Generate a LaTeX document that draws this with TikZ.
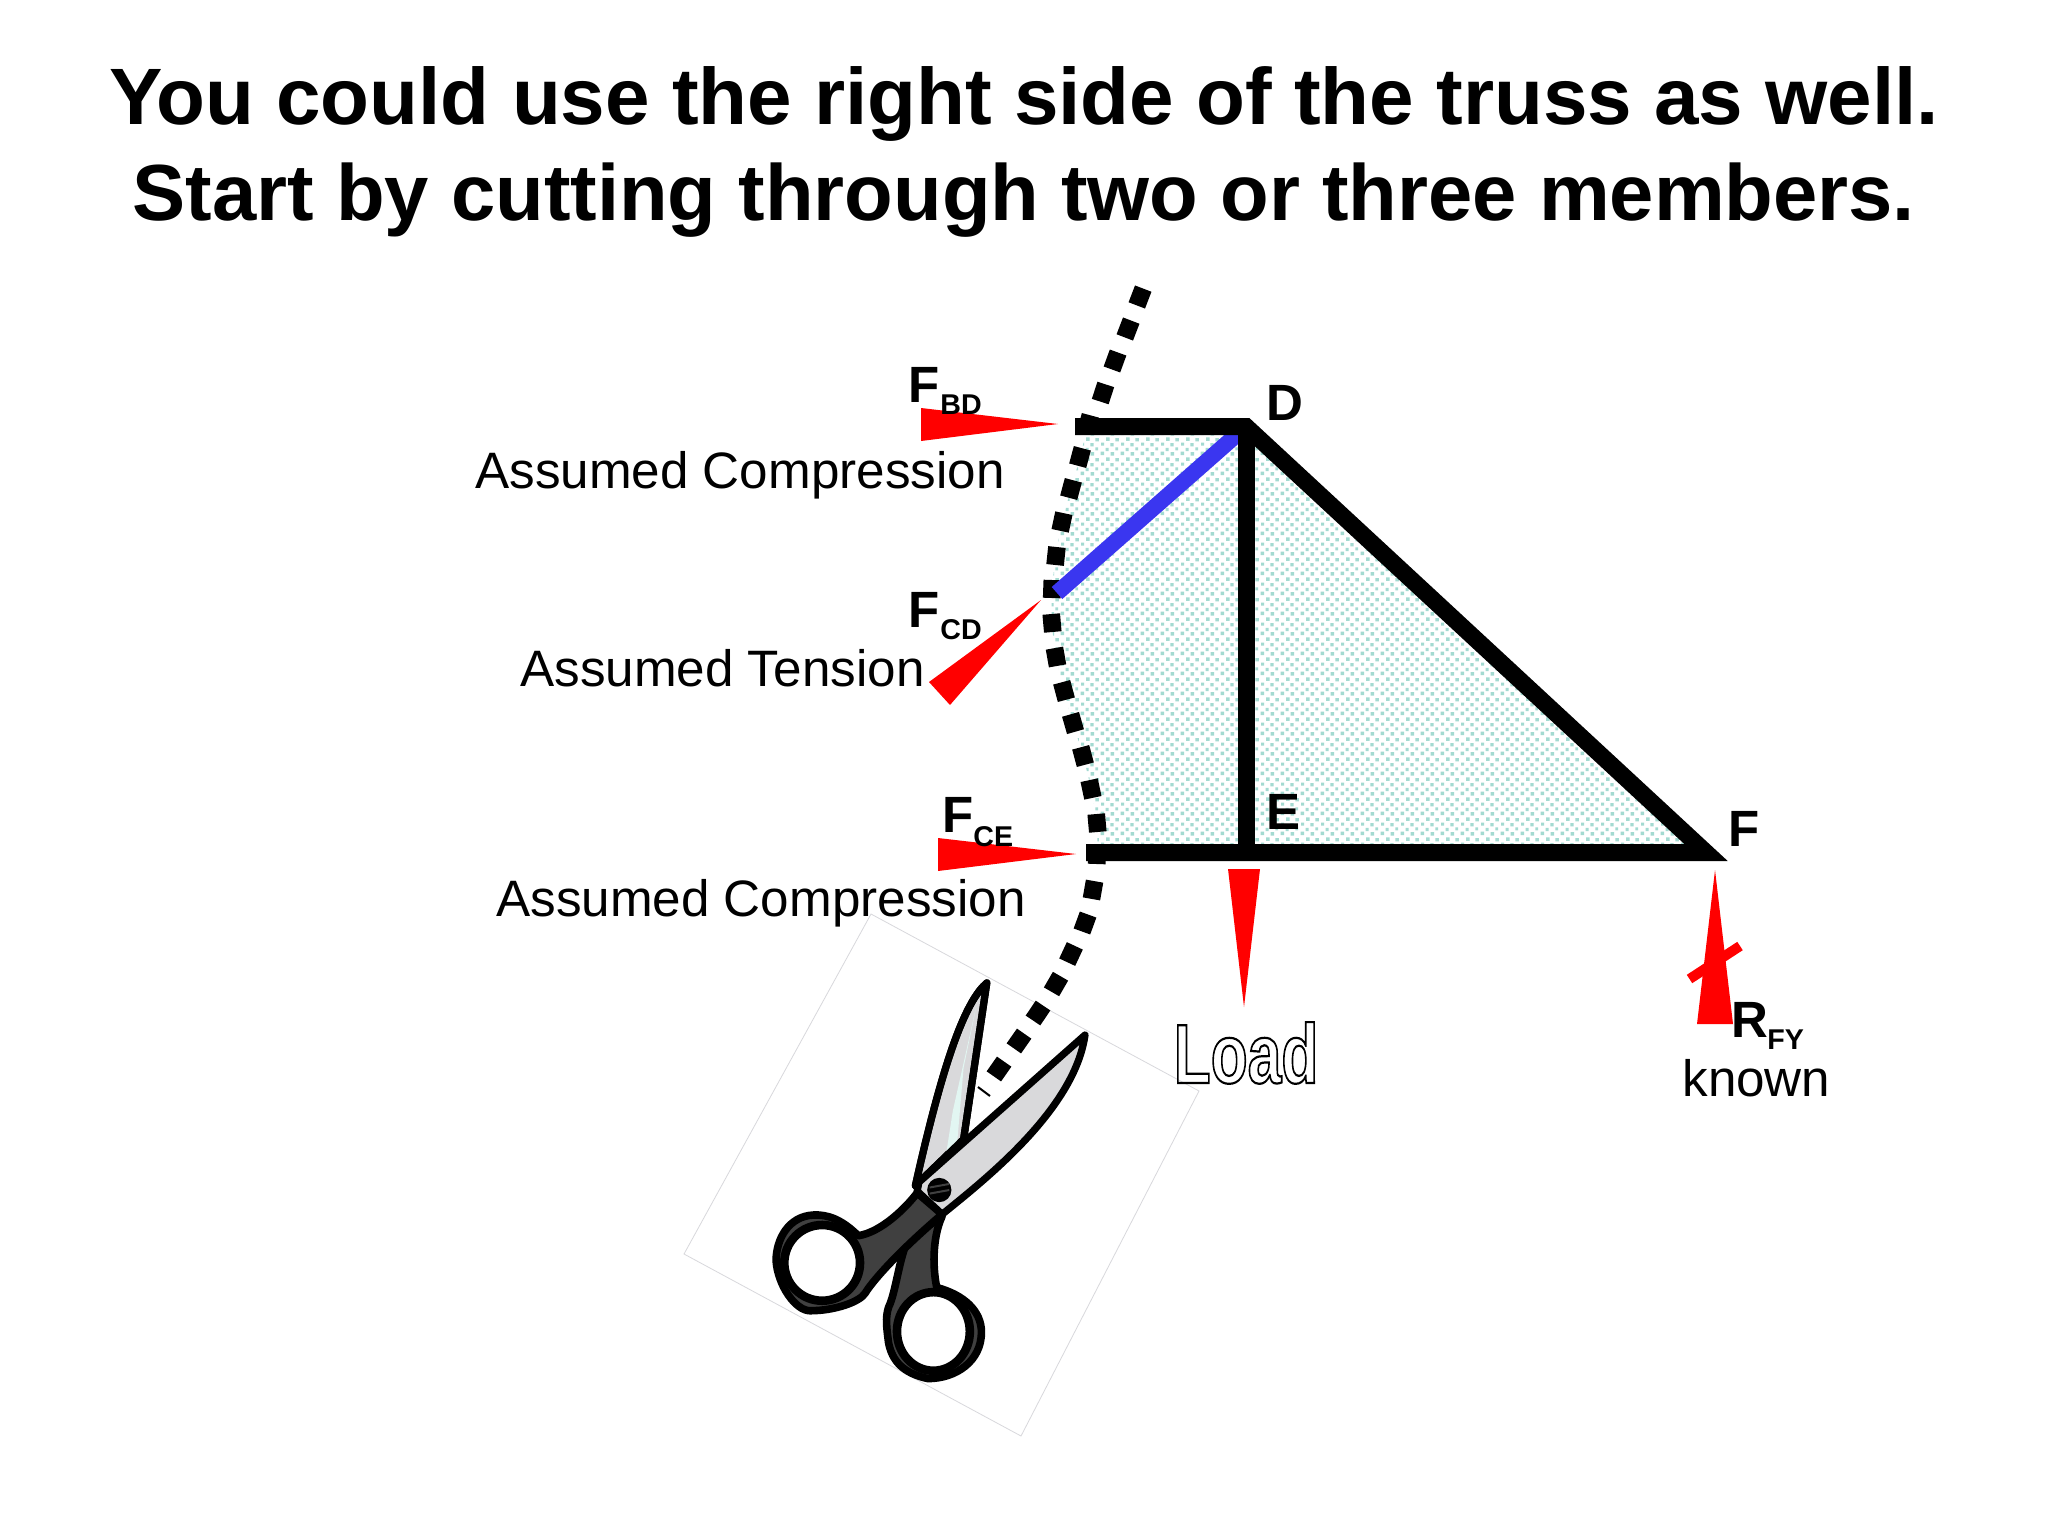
\documentclass[tikz,border=0pt]{standalone}
\usepackage{fontspec}
\setmainfont{Liberation Sans}
\usetikzlibrary{patterns}
\definecolor{fillteal}{HTML}{A3DAD1}
\definecolor{bluemem}{HTML}{3A36F0}
\definecolor{bladegray}{HTML}{D9D9DB}
\definecolor{bladecyan}{HTML}{E2F6F2}
\definecolor{handlegray}{HTML}{404040}
\definecolor{framegray}{HTML}{D8D8DC}
\pgfdeclarepatternformonly{trussdots}{\pgfqpoint{0pt}{0pt}}{\pgfqpoint{10pt}{10pt}}{\pgfqpoint{10pt}{10pt}}{
  \pgfpathrectangle{\pgfqpoint{0.3pt}{0.4pt}}{\pgfqpoint{1.9pt}{1.9pt}}
  \pgfpathrectangle{\pgfqpoint{2.9pt}{2.6pt}}{\pgfqpoint{1.6pt}{1.6pt}}
  \pgfpathrectangle{\pgfqpoint{5.6pt}{0.2pt}}{\pgfqpoint{1.8pt}{1.8pt}}
  \pgfpathrectangle{\pgfqpoint{8.0pt}{3.0pt}}{\pgfqpoint{1.5pt}{1.5pt}}
  \pgfpathrectangle{\pgfqpoint{0.6pt}{5.4pt}}{\pgfqpoint{1.6pt}{1.6pt}}
  \pgfpathrectangle{\pgfqpoint{3.2pt}{7.9pt}}{\pgfqpoint{1.9pt}{1.9pt}}
  \pgfpathrectangle{\pgfqpoint{5.4pt}{5.0pt}}{\pgfqpoint{1.7pt}{1.7pt}}
  \pgfpathrectangle{\pgfqpoint{8.1pt}{7.6pt}}{\pgfqpoint{1.8pt}{1.8pt}}
  \pgfusepath{fill}}
\newcommand{\outl}[1]{\special{pdf:code q 1 Tr 1.1 w 0 G}#1\special{pdf:code 0 Tr Q}}
\tikzset{
  member/.style={line width=8.5pt,line join=miter,miter limit=20,draw=black},
  cutdash/.style={line width=8.8pt,draw=black},
  force/.style={fill=red,draw=none},
  ttl/.style={inner sep=0,font=\fontsize{40}{47}\selectfont\bfseries,anchor=base},
  ttlb/.style={inner sep=0,font=\fontsize{39.8}{47}\selectfont\bfseries,anchor=base},
  lbl/.style={inner sep=0,font=\fontsize{25.6}{30}\selectfont,anchor=base west},
  blbl/.style={inner sep=0,font=\fontsize{25.5}{30}\selectfont\bfseries,anchor=base west},
  sub/.style={inner sep=0,font=\fontsize{14.3}{16}\selectfont\bfseries,anchor=base west},
  blade/.style={fill=bladegray,draw=black,line width=3.6pt,line join=round},
  handle/.style={fill=handlegray,draw=black,line width=3.8pt,line join=round},
  ring/.style={fill=white,draw=black,line width=4.3pt}
}
\begin{document}
\begin{tikzpicture}[x=0.5pt,y=-0.5pt]
\useasboundingbox[fill=white] (0,0) rectangle (2048,1536);
\node[ttl] (t1) at (1024,125) {You could use the right side of the truss as well.};
\node[ttlb] (t2) at (1024,220) {Start by cutting through two or three members.};
% scissors frame
\draw[framegray,line width=0.4pt] (871,914)--(1199,1091)--(1021,1436)--(684,1254)--cycle;
% truss region
\coordinate (A) at (1075,426.5);
\coordinate (D) at (1246,426.5);
\coordinate (E) at (1246,852.5);
\coordinate (F) at (1706,852.5);
\coordinate (G) at (1086,852.5);
\fill[pattern=trussdots,pattern color=fillteal]
  plot[smooth] coordinates {(1088,424)(1080,457)(1071,489)(1062,522)(1056,556)(1052,589)(1052,623)(1056,657)(1064,691)(1073,723)(1083,756)(1091,789)(1097,823)(1097,852)}
  -- (F) -- (D) -- cycle;
% cut line
\foreach \px/\py/\ang in {1140/297/111,1128/329/111,1115/361/110,1103/393/108,1088/424/105,1080/457/105,1071/489/105,1062/522/102,1056/556/96,1052/589/92,1052/623/85,1056/657/80,1064/691/75,1073/723/74,1083/756/75,1091/789/78,1097/823/85,1097/855/92,1093/890/100,1085/923/110,1071/954/115,1056/984/120,1038/1013/124,1019/1041/125,999/1069/125}
  \draw[cutdash] ([shift={(\ang:9)}]\px,\py) -- ([shift={(\ang:-9)}]\px,\py);
\draw[line width=1pt] (978,1087)--(990,1096);
% members
\draw[bluemem,line width=8pt] (1057,593)--(1246,426.5);
\draw[member] (A)--(D)--(F)--(G);
\draw[member] (D)--(E);
% forces
\fill[force] (921,408)--(1058,424)--(921,441)--cycle;
\fill[force] (1041,600)--(929,682)--(950,705)--cycle;
\fill[force] (938,838)--(1076,854)--(938,871)--cycle;
\fill[force] (1228,869)--(1260,869)--(1244,1007)--cycle;
\fill[force] (1715,870)--(1733,1024)--(1697,1024)--cycle;
\draw[red,line width=5pt] (1689.5,979)--(1740,946);
% labels
\node[blbl] (fbd) at (908,402) {F};
\node[sub] (fbds) at (940,414) {BD};
\node[lbl] (a1) at (475,488) {Assumed Compression};
\node[blbl] (fcd) at (908,627) {F};
\node[sub] (fcds) at (940,639) {CD};
\node[lbl] (a2) at (520,686) {Assumed Tension};
\node[blbl] (fce) at (942,832) {F};
\node[sub] (fces) at (973,846) {CE};
\node[lbl] (a3) at (496,916) {Assumed Compression};
\node[blbl] (nd) at (1266,420) {D};
\node[blbl] (ne) at (1266,829) {E};
\node[blbl] (nf) at (1728,846) {F};
\node[blbl] (rf) at (1731,1037) {R};
\node[sub] (rfs) at (1767,1049) {FY};
\node[lbl] (kn) at (1682,1096) {known};
\node[inner sep=0,anchor=base,xscale=0.72,font=\fontsize{42}{48}\selectfont\bfseries] (load) at (1246,1083) {\outl{Load}};
% scissors
\begin{scope}[shift={(660,900)},x=0.17857pt,y=-0.17857pt]
 \draw[handle] (790,885) .. controls (760,950) and (765,1040) .. (775,1085)
   .. controls (850,1105) and (900,1150) .. (900,1210)
   .. controls (900,1290) and (830,1340) .. (750,1340)
   .. controls (680,1325) and (650,1290) .. (640,1240)
   .. controls (635,1200) and (630,1170) .. (640,1140)
   .. controls (660,1100) and (670,1000) .. (695,950) -- cycle;
 \draw[ring] (765.5,1208) ellipse [x radius=102,y radius=110];
 \draw[blade] (915,232) .. controls (860,280) and (800,420) .. (715,800) -- (850,670) -- cycle;
 \fill[bladecyan] (885,300) -- (850,470) -- (832,680) -- (802,705) -- (820,590) -- cycle;
 \draw[black,line width=3.6pt,line join=round] (915,232) .. controls (860,280) and (800,420) .. (715,800) -- (850,670) -- cycle;
 \draw[handle] (720,820) .. controls (690,860) and (620,930) .. (555,940)
   .. controls (510,895) and (470,880) .. (430,882)
   .. controls (360,885) and (325,950) .. (325,1010)
   .. controls (330,1080) and (380,1150) .. (420,1150)
   .. controls (490,1150) and (560,1125) .. (575,1100)
   .. controls (590,1075) and (650,1000) .. (790,880) -- cycle;
 \draw[ring] (454,1016) ellipse [x radius=106,y radius=106];
 \draw[blade] (1190,378) -- (725,790) -- (720,815) -- (790,880)
   .. controls (900,790) and (1160,590) .. (1190,378) -- cycle;
 \fill[black] (782,812) circle [radius=34];
 \draw[handlegray,line width=1pt] (755,805)--(810,795) (755,822)--(810,812);
\end{scope}
\end{tikzpicture}
\end{document}
